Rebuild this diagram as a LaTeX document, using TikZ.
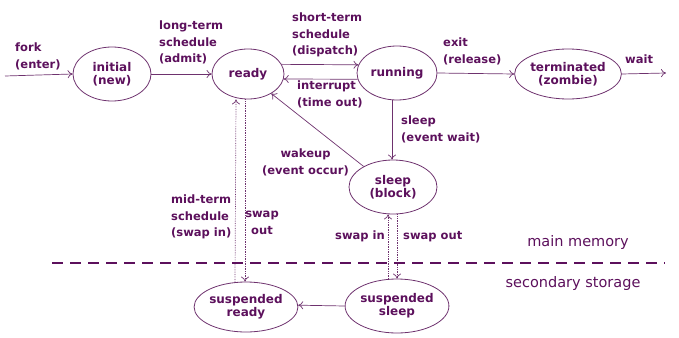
\documentclass[tikz,border=0pt]{standalone}
\usepackage{fontspec}
\setmainfont{DejaVu Sans}
\usetikzlibrary{shapes.geometric,arrows.meta}
\definecolor{pp}{RGB}{92,16,92}
\definecolor{ln}{RGB}{110,50,110}
\begin{document}
\begin{tikzpicture}[x=1pt,y=-1pt,
  st/.style={ellipse,draw=ln,line width=0.8pt,inner sep=0pt,text=pp,font=\fontsize{12}{13}\selectfont\bfseries,align=center},
  lb/.style={text=pp,font=\fontsize{11.5}{16.5}\selectfont\bfseries,align=left,inner sep=0pt},
  ar/.style={draw=ln,line width=0.7pt,-{To[length=5pt,width=8pt]}},
  sw/.style={draw=ln,line width=0.7pt,densely dotted,-{To[length=5pt,width=8pt]}}]
\useasboundingbox (0,0) rectangle (679,337);
\node[st,minimum width=78pt,minimum height=54pt] (init) at (112,74) {initial\\(new)};
\node[st,minimum width=72pt,minimum height=50pt] (ready) at (248,74) {ready};
\node[st,minimum width=80pt,minimum height=54pt] (run) at (397,73) {running};
\node[st,minimum width=86pt,minimum height=50pt] (term) at (568,74) {terminated\\(zombie)};
\node[st,minimum width=88pt,minimum height=54pt] (sleep) at (393,187) {sleep\\(block)};
\node[st,minimum width=94pt,minimum height=50pt] (sready) at (246,307) {suspended\\ready};
\node[st,minimum width=88pt,minimum height=54pt] (ssleep) at (397,306) {suspended\\sleep};
\coordinate (fork) at (5,76);
\coordinate (wait) at (666,73);
% connectors
\draw[ar] (fork) -- (init.west);
\draw[ar] (init.east) -- (ready.west);
\draw[ar] (ready.16) -- (run.168);
\draw[ar] (run.-171) -- (ready.-8);
\draw[ar] (run.east) -- (term.west);
\draw[ar] (term.east) -- (wait);
\draw[ar] ([xshift=-5pt]run.south) -- ([xshift=-1pt]sleep.north);
\draw[ar] (sleep.145) -- (ready.-40);
\draw[ar] (ssleep.west) -- (sready.2);
\draw[sw] ([xshift=-11pt]sready.north) -- ([xshift=-12pt]ready.south);
\draw[sw] ([xshift=-3pt]ready.south) -- ([xshift=-1pt]sready.north);
\draw[sw] ([xshift=-9pt]ssleep.north) -- ([xshift=-5pt]sleep.south);
\draw[sw] ([xshift=4pt]sleep.south) -- (ssleep.north);
% separator
\draw[pp,line width=2.4pt,dash pattern=on 11pt off 7pt] (52,263) -- (665,263);
% labels
\node[lb,anchor=north west] at (15,43) {fork\\(enter)};
\node[lb,anchor=north west] at (159,21) {long-term\\schedule\\(admit)};
\node[lb,anchor=north west] at (292,13) {short-term\\schedule\\(dispatch)};
\node[lb,anchor=north west] at (297,81) {interrupt\\(time out)};
\node[lb,anchor=north west] at (443,38) {exit\\(release)};
\node[lb,anchor=north west] at (625,55) {wait};
\node[lb,anchor=north west] at (401,116) {sleep\\(event wait)};
\node[lb,anchor=north,align=center] at (305.5,149) {wakeup\\(event occur)};
\node[lb,anchor=north west] at (171,195) {mid-term\\schedule\\(swap in)};
\node[lb,anchor=north,align=center] at (262,211) {swap\\out};
\node[lb,anchor=north west] at (335,231) {swap in};
\node[lb,anchor=north west] at (403,231) {swap out};
\node[text=pp,font=\fontsize{14.5}{16}\selectfont,inner sep=0pt] at (578,242) {main memory};
\node[text=pp,font=\fontsize{14.5}{16}\selectfont,inner sep=0pt] at (573,283) {secondary storage};
\end{tikzpicture}
\end{document}
